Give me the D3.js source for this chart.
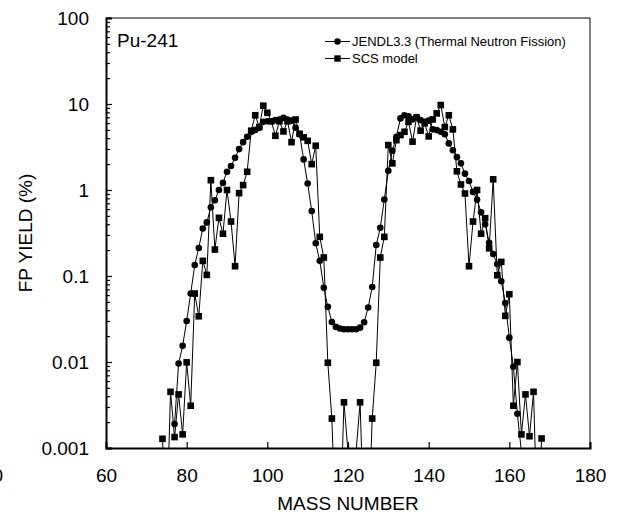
<!DOCTYPE html>
<html>
<head>
<meta charset="utf-8">
<script src="https://cdn.jsdelivr.net/npm/d3@7"></script>
<style>
  body { margin: 0; background: #fff; }
  text { font-family: "Liberation Sans", Arial, sans-serif; fill: #000; }
</style>
</head>
<body>
<div id="chart"></div>
<script>
// Mass numbers and FP yields (%).
// Values under 0.001 sit below the axis and only show as lines leaving the frame.
var jendlMass = [77, 78, 79, 80, 81, 82, 83, 84, 85, 86, 87, 88, 89, 90, 91, 92, 93, 94, 95, 96,
  97, 98, 99, 100, 101, 102, 103, 104, 105, 106, 107, 108, 109, 110, 111, 112, 113, 114, 115, 116,
  117, 118, 119, 120, 121, 122, 123, 124, 125, 126, 127, 128, 129, 130, 131, 132, 133, 134, 135, 136,
  137, 138, 139, 140, 141, 142, 143, 144, 145, 146, 147, 148, 149, 150, 151, 152, 153, 154, 155, 156,
  157, 158, 159, 160, 161, 162, 163];
var jendlYield = [
  0.0019, 0.0096, 0.0154, 0.030, 0.0625, 0.134, 0.212, 0.357, 0.42, 0.63,
  0.76, 1.0, 1.21, 1.63, 1.90, 2.37, 2.99, 3.6, 4.16, 4.75,
  5.0, 5.3, 6.2, 6.3, 6.3, 6.5, 6.6, 6.9, 6.6, 6.4,
  5.3, 4.44, 2.27, 1.19, 0.57, 0.24, 0.15, 0.073, 0.0438, 0.0292,
  0.0256, 0.0245, 0.024, 0.024, 0.024, 0.024, 0.0251, 0.029, 0.043, 0.0746,
  0.229, 0.363, 0.776, 1.67, 2.86, 4.16, 6.8, 7.4, 7.2, 6.62,
  7.07, 6.5, 6.2, 6.4, 5.07, 4.97, 4.75, 4.45, 3.48, 2.9,
  2.41, 2.04, 1.55, 1.27, 0.95, 0.77, 0.55, 0.40, 0.243, 0.18,
  0.138, 0.087, 0.0486, 0.0192, 0.0088, 0.0025, 0.0009];

var scsMass = [74, 75, 76, 77, 78, 79, 80, 81, 82, 83, 84, 85, 86, 87, 88, 89, 90, 91, 92, 93,
  94, 95, 96, 97, 98, 99, 100, 101, 102, 103, 104, 105, 106, 107, 108, 109, 110, 111, 112, 113,
  114, 115, 116, 117, 118, 119, 120, 121, 122, 123, 124, 125, 126, 127, 128, 129, 130, 131, 132, 133,
  134, 135, 136, 137, 138, 139, 140, 141, 142, 143, 144, 145, 146, 147, 148, 149, 150, 151, 152, 153,
  154, 155, 156, 157, 158, 159, 160, 161, 162, 163, 164, 165, 166, 167, 168];
var scsYield = [
  0.00128, 0.0001, 0.0045, 0.00134, 0.0042, 0.00144, 0.0099, 0.0031, 0.0625, 0.034,
  0.15, 0.103, 1.30, 0.203, 0.475, 0.31, 1.0, 0.43, 0.13, 0.92,
  1.14, 1.63, 4.89, 7.4, 5.4, 9.55, 7.9, 6.3, 4.27, 6.3,
  4.8, 6.3, 3.6, 6.6, 4.5, 4.1, 3.73, 2.0, 3.27, 0.285,
  0.164, 0.0098, 0.0022, 0.0001, 0.0001, 0.0034, 0.0009, 0.0001, 0.0009, 0.0034,
  0.0001, 0.0001, 0.0022, 0.0098, 0.164, 0.285, 3.33, 2.04, 3.8, 4.35,
  4.75, 6.2, 3.65, 6.98, 4.9, 5.96, 4.2, 6.62, 7.78, 9.72,
  5.4, 7.4, 5.07, 1.65, 1.16, 0.91, 0.13, 0.43, 1.0, 0.31,
  0.47, 0.21, 1.33, 0.102, 0.146, 0.0344, 0.0614, 0.0031, 0.0100, 0.00144,
  0.0042, 0.00137, 0.0045, 0.0001, 0.00129];

var xTicks = [60, 80, 100, 120, 140, 160, 180];
var yTicks = [0.001, 0.01, 0.1, 1, 10, 100];
var yTickLabels = ["0.001", "0.01", "0.1", "1", "10", "100"];
var legendLabels = ["JENDL3.3 (Thermal Neutron Fission)", "SCS model"];

// SVG area and margins
var svgWidth = 617;
var svgHeight = 519;
var margin = { top: 18, right: 27, bottom: 71, left: 106 };
var chartWidth = svgWidth - margin.left - margin.right;
var chartHeight = svgHeight - margin.top - margin.bottom;

var svg = d3.select("#chart")
  .append("svg")
  .attr("width", svgWidth)
  .attr("height", svgHeight);

var chartGroup = svg.append("g")
  .attr("transform", `translate(${margin.left}, ${margin.top})`);

var xScale = d3.scaleLinear().domain([60, 180]).range([0, chartWidth]);
var yScale = d3.scaleLog().domain([0.001, 100]).range([chartHeight, 0]);

// minor ticks 2..9 inside every decade
var minorTicks = [];
yTicks.slice(0, -1).forEach(function(d) {
  for (var k = 2; k < 10; k++) minorTicks.push(d * k);
});

// frame (top and right)
chartGroup.append("path")
  .attr("d", `M0,0H${chartWidth}V${chartHeight}`)
  .attr("fill", "none")
  .attr("stroke", "#000")
  .attr("stroke-width", 1);

// left axis, ticks pointing inward
var leftAxis = d3.axisLeft(yScale)
  .tickValues(yTicks)
  .tickFormat(function(d, i) { return yTickLabels[i]; })
  .tickSize(-6)
  .tickPadding(17);
var minorAxis = d3.axisLeft(yScale).tickValues(minorTicks).tickFormat("").tickSize(-4);

chartGroup.append("g").call(minorAxis).call(function(g) { g.select(".domain").remove(); })
  .selectAll("line").attr("stroke-width", 1.2);
var yAxisG = chartGroup.append("g").call(leftAxis);

var bottomAxis = d3.axisBottom(xScale)
  .tickValues(xTicks)
  .tickSize(-6)
  .tickPadding(21);
var xAxisG = chartGroup.append("g")
  .attr("transform", `translate(0, ${chartHeight})`)
  .call(bottomAxis);

[yAxisG, xAxisG].forEach(function(g) {
  g.select(".domain").attr("stroke-width", 2);
  g.selectAll(".tick line").attr("stroke-width", 1.2);
  g.selectAll("text").style("font-size", "19px").attr("fill", "#000");
});
xAxisG.selectAll(".tick").filter(function(d) { return d === 60 || d === 180; }).select("line").remove();

// clip everything that drops below 0.001
chartGroup.append("clipPath").attr("id", "plotClip")
  .append("rect").attr("width", chartWidth).attr("height", chartHeight);

var plotArea = chartGroup.append("g").attr("clip-path", "url(#plotClip)");

var jendlData = jendlMass.map(function(m, i) { return { mass: m, y: jendlYield[i] }; });
var scsData = scsMass.map(function(m, i) { return { mass: m, y: scsYield[i] }; });

var line = d3.line()
  .x(d => xScale(d.mass))
  .y(d => yScale(d.y));

plotArea.append("path").datum(jendlData)
  .attr("d", line).attr("fill", "none").attr("stroke", "#000").attr("stroke-width", 1);
plotArea.append("path").datum(scsData)
  .attr("d", line).attr("fill", "none").attr("stroke", "#000").attr("stroke-width", 1);

plotArea.selectAll(".jendl").data(jendlData.filter(d => d.y >= 0.001)).enter()
  .append("circle")
  .attr("class", "jendl")
  .attr("cx", d => xScale(d.mass))
  .attr("cy", d => yScale(d.y))
  .attr("r", 3.3)
  .attr("fill", "#000");

var sq = 6.6;
plotArea.selectAll(".scs").data(scsData.filter(d => d.y >= 0.001)).enter()
  .append("rect")
  .attr("class", "scs")
  .attr("x", d => xScale(d.mass) - sq / 2)
  .attr("y", d => yScale(d.y) - sq / 2)
  .attr("width", sq)
  .attr("height", sq)
  .attr("fill", "#000");

// labels
chartGroup.append("text")
  .attr("x", 11)
  .attr("y", 28.5)
  .style("font-size", "19px")
  .text("Pu-241");

svg.append("text")
  .attr("transform", "rotate(-90)")
  .attr("x", -(margin.top + chartHeight / 2))
  .attr("y", 32)
  .attr("text-anchor", "middle")
  .style("font-size", "19px")
  .text("FP YIELD (%)");

svg.append("text")
  .attr("x", margin.left + chartWidth / 2)
  .attr("y", 510)
  .attr("text-anchor", "middle")
  .style("font-size", "19px")
  .text("MASS NUMBER");

// stray clipped tick label at the left edge
svg.append("text")
  .attr("x", 3)
  .attr("y", 481.5)
  .attr("text-anchor", "end")
  .style("font-size", "19px")
  .text("0");

// legend
var legend = svg.append("g").attr("transform", "translate(325, 41.5)");
legendLabels.forEach(function(label, i) {
  var row = legend.append("g").attr("transform", `translate(0, ${i * 17})`);
  row.append("line").attr("x1", 0).attr("x2", 25).attr("stroke", "#000").attr("stroke-width", 1);
  if (i === 0) {
    row.append("circle").attr("cx", 12.5).attr("r", 3.2).attr("fill", "#000");
  } else {
    row.append("rect").attr("x", 12.5 - 3.2).attr("y", -3.2).attr("width", 6.4).attr("height", 6.4).attr("fill", "#000");
  }
  row.append("text")
    .attr("x", 27)
    .attr("dy", "0.35em")
    .style("font-size", "13px")
    .text(label);
});
</script>
</body>
</html>
